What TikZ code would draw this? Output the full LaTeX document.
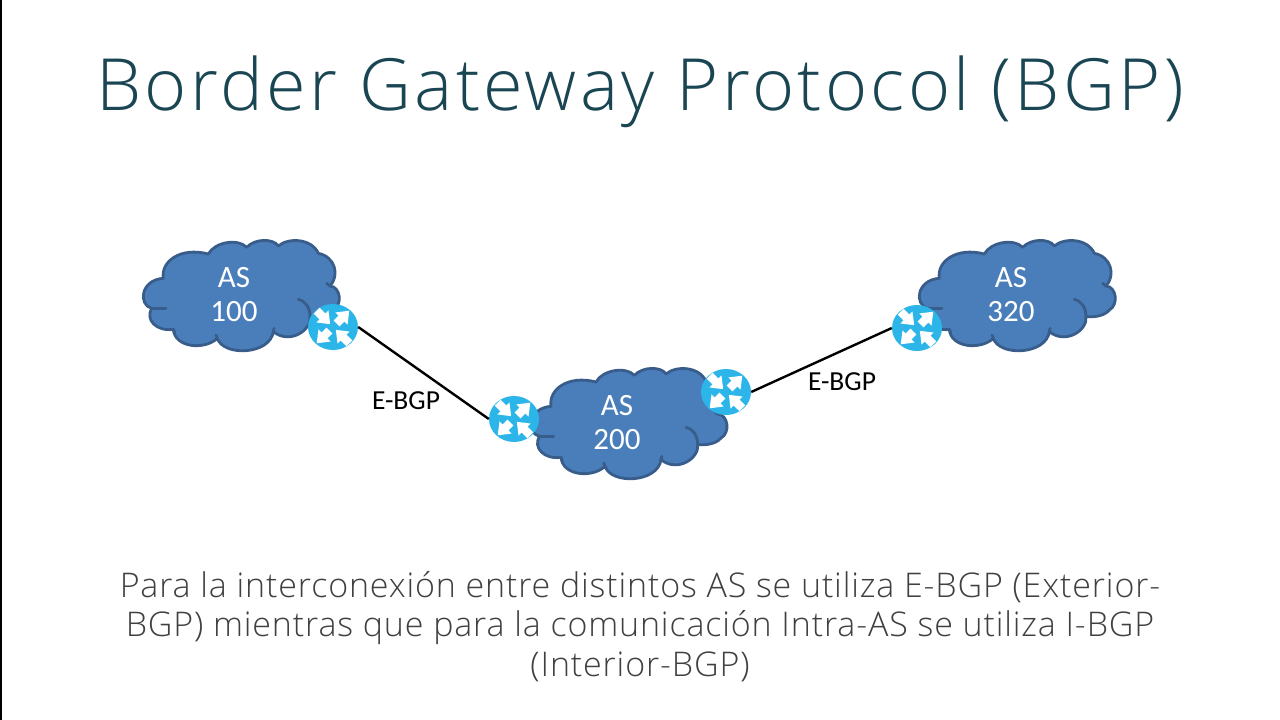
\documentclass[tikz,border=0pt]{standalone}
\usepackage{fontspec}
\setmainfont{Open Sans}
\newfontfamily\lightf[LetterSpace=2.5]{Open Sans Light}
\newfontfamily\titlef[LetterSpace=4.6]{Open Sans Light}
\newfontfamily\lbl{Carlito}
\definecolor{titlec}{HTML}{1A4653}
\definecolor{bodyc}{HTML}{404040}
\definecolor{cloudfill}{HTML}{4A7EBB}
\definecolor{cloudline}{HTML}{385D8A}
\definecolor{routerc}{HTML}{2CB5E8}
\usetikzlibrary{shapes.geometric}
\tikzset{
 cloudshape/.style={fill=cloudfill,draw=cloudline,line width=2.8pt,line join=round},
 cloudtick/.style={draw=cloudline,line width=2.8pt,line cap=round},
 routernode/.style={ellipse,minimum width=50pt,minimum height=46pt,inner sep=0pt,fill=routerc},
 aslabel/.style={text=white,font=\lbl\fontsize{31}{34}\selectfont,align=center},
 linklabel/.style={text=black,font=\lbl\fontsize{27.5}{30}\selectfont},
 linkline/.style={draw=black,line width=2.4pt},
 whitearrow/.style={fill=white,draw=none},
}
\newcommand{\cloudat}[2]{%
\begin{scope}[shift={(#1,#2)},scale=1/3]
\path[cloudshape] (100,145)
 .. controls (92,95) and (150,50) .. (235,72)
 .. controls (255,35) and (325,25) .. (350,52)
 .. controls (375,25) and (430,25) .. (445,48)
 .. controls (475,22) and (545,25) .. (565,70)
 .. controls (615,80) and (630,135) .. (600,168)
 .. controls (632,170) and (638,225) .. (610,240)
 .. controls (595,258) and (565,262) .. (540,260)
 .. controls (545,300) and (480,345) .. (430,305)
 .. controls (420,375) and (280,380) .. (262,325)
 .. controls (225,360) and (135,355) .. (130,298)
 .. controls (80,305) and (45,270) .. (65,235)
 .. controls (25,225) and (30,150) .. (100,145) -- cycle;
\draw[cloudtick] (65,235) -- (108,235);
\draw[cloudtick] (505,208) .. controls (525,212) and (540,232) .. (540,260);
\draw[cloudtick] (600,168) -- (590,160);
\draw[cloudtick] (130,298) -- (134,308);
\draw[cloudtick] (262,325) -- (258,315);
\draw[cloudtick] (430,305) -- (432,295);
\end{scope}}
\newcommand{\routerarrows}[1]{%
\foreach \a/\o in {45/0,-135/0,135/1,-45/1}{%
\begin{scope}[shift={(#1)},rotate=\a,yscale=0.95]
\ifnum\o=0
\fill[whitearrow] (5,-4.3) -- (12,-4.3) -- (12,-9) -- (23,0) -- (12,9) -- (12,4.3) -- (5,4.3) -- cycle;
\else
\fill[whitearrow] (23,-4.3) -- (15,-4.3) -- (15,-9) -- (4,0) -- (15,9) -- (15,4.3) -- (23,4.3) -- cycle;
\fi
\end{scope}}}
\begin{document}
\begin{tikzpicture}[x=1pt,y=-1pt]
\useasboundingbox (0,0) rectangle (1280,720);
\fill[white] (0,0) rectangle (1280,720);
\draw[black,line width=2pt] (1,0) -- (1,720);
\node[text=titlec,font=\titlef\fontsize{72}{90}\selectfont,anchor=base] (title) at (640,110.7) {Border Gateway Protocol (BGP)};
\cloudat{130}{230}
\cloudat{517.7}{358}
\cloudat{906}{230}
\node[aslabel] (as100) at (234,295) {AS\\100};
\node[aslabel] (as200) at (617,423) {AS\\200};
\node[aslabel] (as320) at (1011,295) {AS\\320};
\node[routernode] (r1) at (333,327) {};
\node[routernode] (r2) at (514,419) {};
\node[routernode] (r3) at (726,392) {};
\node[routernode] (r4) at (917,328) {};
\routerarrows{r1}
\routerarrows{r2}
\routerarrows{r3}
\routerarrows{r4}
\draw[linkline] (r1.east) -- (r2.west);
\draw[linkline] (r3.east) -- (r4.west);
\node[linklabel] (l1) at (406,401) {E-BGP};
\node[linklabel] (l2) at (842,382) {E-BGP};
\node[text=bodyc,font=\lightf\fontsize{34}{39.5}\selectfont,align=center] (body) at (640,626.5) {Para la interconexión entre distintos AS se utiliza E-BGP (Exterior-\\BGP) mientras que para la comunicación Intra-AS se utiliza I-BGP\\(Interior-BGP)};
\end{tikzpicture}
\end{document}
